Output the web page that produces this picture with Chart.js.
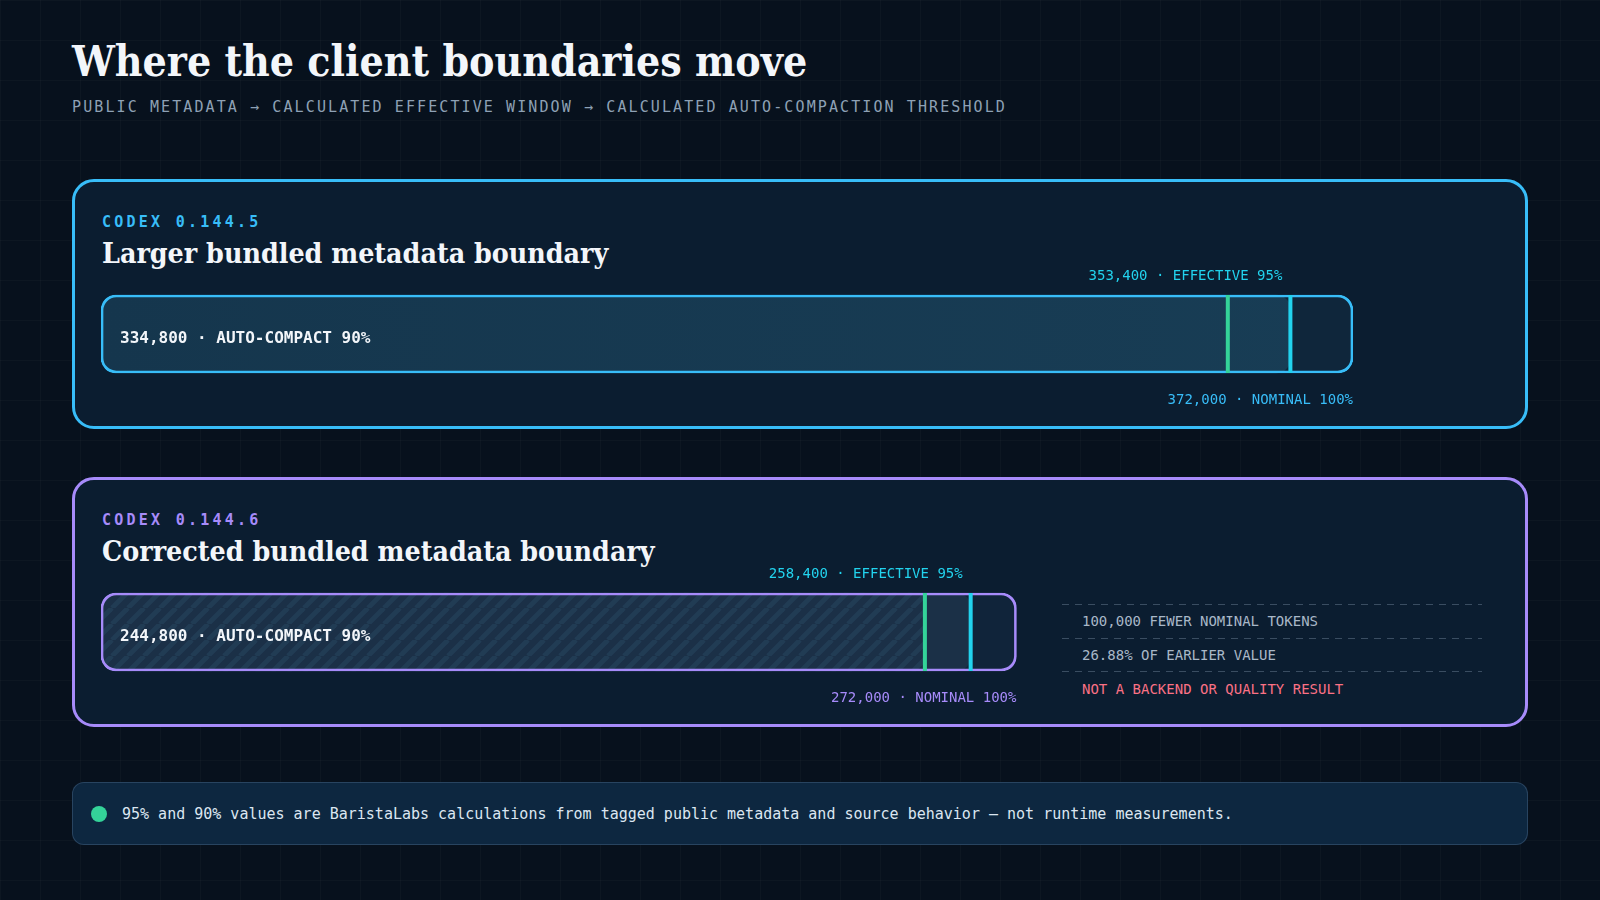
<!DOCTYPE html>
<html>
<head>
<meta charset="utf-8">
<script src="https://cdn.jsdelivr.net/npm/chart.js@4.4.1/dist/chart.umd.min.js"></script>
<style>
  html, body { margin: 0; padding: 0; }
  body {
    width: 1600px; height: 900px; overflow: hidden; position: relative;
    background-color: #07111d;
    background-image:
      linear-gradient(rgba(255,255,255,0.025) 1px, transparent 1px),
      linear-gradient(90deg, rgba(255,255,255,0.025) 1px, transparent 1px);
    background-size: 40px 40px;
    font-family: "DejaVu Sans Mono", monospace;
  }
  .abs { position: absolute; white-space: nowrap; }
  .title {
    left: 72px; top: 34px; line-height: 54px;
    font-family: "DejaVu Serif Condensed", "DejaVu Serif", serif; font-stretch: condensed;
    font-weight: bold; font-size: 42.4px; color: #f3f6fa;
  }
  .sub {
    left: 72px; top: 97px; line-height: 20px;
    font-size: 15px; letter-spacing: 2.1px; color: #8ea1b5;
  }
  .card {
    position: absolute; left: 72px; width: 1456px; height: 250px;
    box-sizing: border-box; border: 3px solid #38bdf8; border-radius: 22px;
    background: #0b1d30;
  }
  .card.v2 { border-color: #a78bfa; }
  .tag { left: 102px; font-size: 15px; font-weight: bold; letter-spacing: 3.25px; line-height: 20px; }
  .head {
    left: 102px; line-height: 40px;
    font-family: "DejaVu Serif Condensed", "DejaVu Serif", serif; font-stretch: condensed;
    font-weight: bold; font-size: 28.3px; color: #f3f6fa;
  }
  .dash {
    position: absolute; left: 1062px; width: 420px; height: 1px;
    background: repeating-linear-gradient(90deg, #3a4d61 0 7px, transparent 7px 13px);
  }
  .note { left: 1082px; font-size: 14px; line-height: 20px; color: #a9b8c8; }
  .foot {
    position: absolute; left: 72px; top: 782px; width: 1456px; height: 63px;
    box-sizing: border-box; border: 1px solid rgba(110,145,180,0.28); border-radius: 12px;
    background: #0d2740;
  }
  .dot { position: absolute; left: 91px; top: 806px; width: 16px; height: 16px; border-radius: 50%; background: #34d399; }
  .foottext { left: 122px; top: 804px; line-height: 20px; font-size: 15px; color: #dbe6f1; }
  #wrap { position: absolute; left: 0; top: 0; width: 1600px; height: 900px; }
</style>
</head>
<body>
<div class="abs title">Where the client boundaries move</div>
<div class="abs sub">PUBLIC METADATA → CALCULATED EFFECTIVE WINDOW → CALCULATED AUTO-COMPACTION THRESHOLD</div>

<div class="card" style="top:179px"></div>
<div class="card v2" style="top:477px"></div>

<div class="abs tag" style="top:212px; color:#38bdf8">CODEX 0.144.5</div>
<div class="abs head" style="top:233px">Larger bundled metadata boundary</div>
<div class="abs tag" style="top:510px; color:#a78bfa">CODEX 0.144.6</div>
<div class="abs head" style="top:531px">Corrected bundled metadata boundary</div>

<div class="dash" style="top:604px"></div>
<div class="dash" style="top:638px"></div>
<div class="dash" style="top:671px"></div>
<div class="abs note" style="top:611px">100,000 FEWER NOMINAL TOKENS</div>
<div class="abs note" style="top:645px">26.88% OF EARLIER VALUE</div>
<div class="abs note" style="top:679px; color:#fb7185">NOT A BACKEND OR QUALITY RESULT</div>

<div class="foot"></div>
<div class="dot"></div>
<div class="abs foottext">95% and 90% values are BaristaLabs calculations from tagged public metadata and source behavior — not runtime measurements.</div>

<div id="wrap"><canvas id="boundaries" width="1600" height="900"></canvas></div>

<script>
// values
const versions = ['CODEX 0.144.5', 'CODEX 0.144.6'];
const nominal = [372000, 272000];
const effective = [353400, 258400];
const autoCompact = [334800, 244800];

const edgeColors = ['#38bdf8', '#a78bfa'];
const trackColors = ['#0f263b', '#10243a'];

// diagonal hatch for the second bar
const hatchCanvas = document.createElement('canvas');
hatchCanvas.width = 16; hatchCanvas.height = 16;
const hc = hatchCanvas.getContext('2d');
hc.strokeStyle = 'rgba(60,110,140,0.2)';
hc.lineWidth = 5;
for (let o = -16; o <= 32; o += 16) {
  hc.beginPath(); hc.moveTo(o, 16); hc.lineTo(o + 16, 0); hc.stroke();
}
const ctx = document.getElementById('boundaries').getContext('2d');
const hatch = ctx.createPattern(hatchCanvas, 'repeat');

const fmt = v => v.toLocaleString('en-US');

const labelsPlugin = {
  id: 'boundaryLabels',
  afterDatasetsDraw(chart) {
    const c = chart.ctx;
    const x = chart.scales.x;
    const meta = chart.getDatasetMeta(0);
    meta.data.forEach((bar, i) => {
      const top = bar.y - bar.height / 2;
      const bottom = bar.y + bar.height / 2;
      const xc = x.getPixelForValue(autoCompact[i]);
      const xe = x.getPixelForValue(effective[i]);
      const xn = x.getPixelForValue(nominal[i]);
      c.save();
      c.fillStyle = '#34d399';
      c.fillRect(xc - 2, top, 4, bottom - top);
      c.fillStyle = '#22d3ee';
      c.fillRect(xe - 2, top, 4, bottom - top);

      c.textBaseline = 'middle';
      c.font = 'bold 16px "DejaVu Sans Mono"';
      c.fillStyle = '#f3f6fa';
      c.textAlign = 'left';
      c.fillText(fmt(autoCompact[i]) + ' · AUTO-COMPACT ' + Math.round(autoCompact[i] / nominal[i] * 100) + '%', x.left + 19, bar.y + 5);

      c.font = '14px "DejaVu Sans Mono"';
      c.textAlign = 'right';
      c.fillStyle = '#22d3ee';
      c.fillText(fmt(effective[i]) + ' · EFFECTIVE ' + Math.round(effective[i] / nominal[i] * 100) + '%', xe - 8, top - 19);
      c.fillStyle = edgeColors[i];
      c.fillText(fmt(nominal[i]) + ' · NOMINAL 100%', xn, bottom + 27);
      c.restore();
    });
  }
};

const common = { grouped: false, barThickness: 78, borderSkipped: false };

new Chart(ctx, {
  type: 'bar',
  data: {
    labels: versions,
    datasets: [
      { ...common, label: 'edge', data: nominal, backgroundColor: 'rgba(0,0,0,0)', borderColor: edgeColors, borderWidth: 2, borderRadius: 15 },
      { ...common, label: 'auto-compact', data: autoCompact, backgroundColor: ['rgba(0,0,0,0)', hatch], borderWidth: 0, borderRadius: { topLeft: 15, bottomLeft: 15 } },
      { ...common, label: 'effective', data: effective, borderWidth: 0, borderRadius: 15,
        backgroundColor: (context) => {
          if (context.dataIndex === 1) return '#1b3047';
          const area = context.chart.chartArea;
          if (!area) return '#163850';
          const g = context.chart.ctx.createLinearGradient(area.left, 0, area.right, 0);
          g.addColorStop(0, '#15364d');
          g.addColorStop(1, '#183d55');
          return g;
        } },
      { ...common, label: 'nominal', data: nominal, backgroundColor: trackColors, borderWidth: 0, borderRadius: 15 }
    ]
  },
  options: {
    indexAxis: 'y',
    responsive: false,
    animation: false,
    devicePixelRatio: 1,
    layout: { padding: { left: 101, right: 247, top: 185, bottom: 119 } },
    scales: {
      x: { type: 'linear', min: 0, max: Math.max(...nominal), display: false },
      y: { display: false, offset: true }
    },
    plugins: { legend: { display: false }, tooltip: { enabled: false } }
  },
  plugins: [labelsPlugin]
});
</script>
</body>
</html>
